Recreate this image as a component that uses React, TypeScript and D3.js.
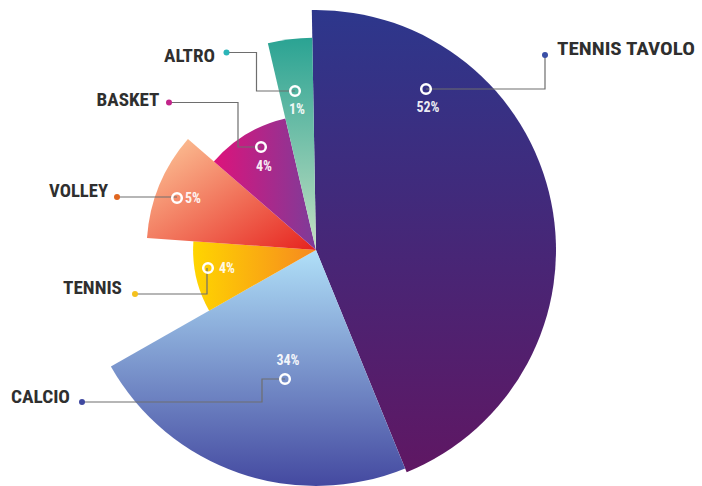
import React, { useEffect } from "react";
import * as d3 from "d3";

// ---- data ----
const categories = ["TENNIS TAVOLO", "CALCIO", "TENNIS", "VOLLEY", "BASKET", "ALTRO"];
const percentages = [52, 34, 4, 5, 4, 1];
// angular sweep of each slice (degrees)
const sweepDegrees = [158.8, 82.6, 33.7, 36.8, 36.0, 12.1];
// relative reach (radius) of each slice, 0..100
const reach = [100, 98.3, 51.2, 70.6, 56.3, 88.5];
const dotColors = ["#3a4fa6", "#3f48a0", "#f4c11e", "#e0661f", "#c2248a", "#2bb5b8"];
const gradientStops: [string, string][] = [
  ["#2d378c", "#5f1763"],
  ["#b0e0f8", "#4449a0"],
  ["#ffd500", "#f6891f"],
  ["#fdcb9c", "#e6221e"],
  ["#dd137b", "#7d3c99"],
  ["#2aa393", "#c4e0c2"],
];
const gradientDir = [
  [0, 0, 0, 1],
  [0, 0, 0, 1],
  [0, 0, 1, 0],
  [0, 0, 1, 1],
  [0, 0, 1, 0],
  [0, 0, 0, 1],
];

// ---- layout ----
const W = 702;
const H = 486;
const CX = 316;
const CY = 250;
const START_DEG = -1;

type Lbl = {
  text: [number, number, string, number];
  dot: [number, number];
  path: [number, number][];
  pct: [number, number, string];
};
const labelLayout: Lbl[] = [
  { text: [557, 55, "start", 138], dot: [545, 55], path: [[545, 55], [545, 89], [426, 89]], pct: [428, 111.5, "middle"] },
  { text: [70, 403, "end", 59], dot: [82, 402], path: [[82, 402], [262, 402], [262, 379], [285, 379]], pct: [288, 364.5, "middle"] },
  { text: [122, 294, "end", 59], dot: [135, 294], path: [[135, 294], [207, 294], [207, 268]], pct: [219, 273, "start"] },
  { text: [108, 196.5, "end", 59], dot: [117, 197], path: [[117, 197], [177, 197]], pct: [185, 203, "start"] },
  { text: [159.5, 106, "end", 63], dot: [169, 102.5], path: [[169, 102.5], [238, 102.5], [238, 147], [261, 147]], pct: [264, 170.5, "middle"] },
  { text: [215, 61.5, "end", 51], dot: [226.5, 52.5], path: [[226.5, 52.5], [256.5, 52.5], [256.5, 91], [295, 91]], pct: [297, 113.5, "middle"] },
];
const markerPos: [number, number][] = [
  [426, 89],
  [285, 379],
  [208, 268],
  [177, 198],
  [261, 147],
  [295, 91],
];

export default function App() {
  useEffect(() => {
    document.body.style.margin = "0";
  }, []);

  const rScale = d3.scaleLinear().domain([0, 100]).range([0, 240]);
  const startA = (START_DEG * Math.PI) / 180;
  const pie = d3
    .pie<number>()
    .sort(null)
    .value((d) => d)
    .startAngle(startA)
    .endAngle(startA + 2 * Math.PI);
  const arcs = pie(sweepDegrees);
  const arcGen = d3.arc<d3.PieArcDatum<number>>().innerRadius(0);

  const line = d3.line();
  const labelFont = "'Roboto Condensed', 'Liberation Sans Narrow', Roboto, sans-serif";

  return (
    <svg width={W} height={H} style={{ display: "block", background: "#fff" }}>
      <defs>
        {gradientStops.map((s, i) => (
          <linearGradient
            key={i}
            id={`g${i}`}
            x1={gradientDir[i][0]}
            y1={gradientDir[i][1]}
            x2={gradientDir[i][2]}
            y2={gradientDir[i][3]}
          >
            <stop offset="0" stopColor={s[0]} />
            <stop offset="1" stopColor={s[1]} />
          </linearGradient>
        ))}
      </defs>
      <g transform={`translate(${CX},${CY})`}>
        {arcs.map((a, i) => (
          <path
            key={categories[i]}
            d={arcGen.outerRadius(rScale(reach[i]))(a) || ""}
            fill={`url(#g${i})`}
          />
        ))}
      </g>
      {labelLayout.map((l, i) => (
        <g key={categories[i]}>
          <path d={line(l.path) || ""} fill="none" stroke="#6e6e6e" strokeWidth={1.2} />
          <circle cx={l.dot[0]} cy={l.dot[1]} r={3} fill={dotColors[i]} />
          <circle
            cx={markerPos[i][0]}
            cy={markerPos[i][1]}
            r={4.8}
            fill="none"
            stroke="#fff"
            strokeWidth={2.5}
          />
          <text
            x={l.text[0]}
            y={l.text[1]}
            textAnchor={l.text[2] as any}
            fontFamily={labelFont}
            fontWeight={700}
            fontSize={19}
            fill="#2f2f2f"
            textLength={l.text[3]}
            lengthAdjust="spacingAndGlyphs"
          >
            {categories[i]}
          </text>
          <text
            x={l.pct[0]}
            y={l.pct[1]}
            textAnchor={l.pct[2] as any}
            fontFamily={labelFont}
            fontWeight={700}
            fontSize={14}
            fill="#fff"
            fillOpacity={0.92}
          >
            {percentages[i]}%
          </text>
        </g>
      ))}
    </svg>
  );
}
